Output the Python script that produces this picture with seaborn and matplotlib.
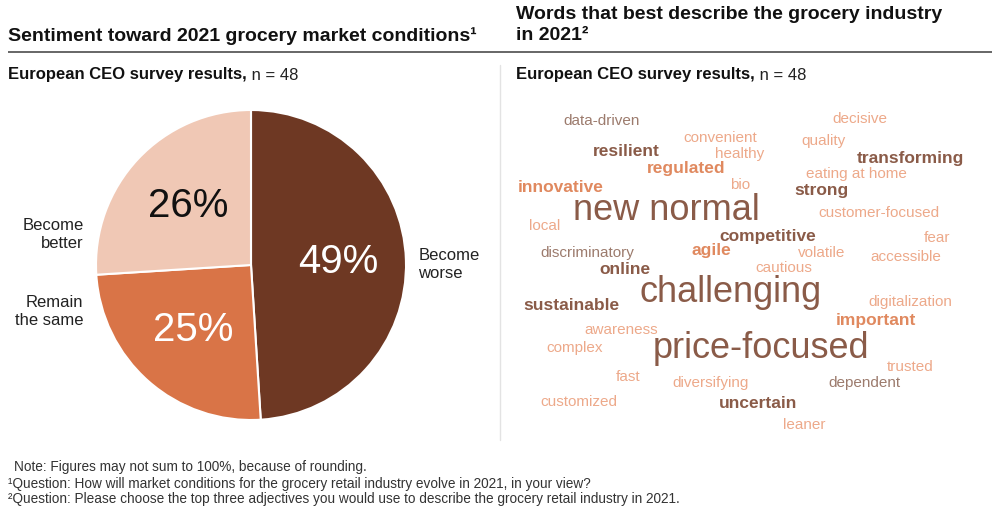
import matplotlib
matplotlib.use('Agg')
import matplotlib.pyplot as plt
import seaborn as sns

# --- data ---
sentiment_labels = ['Become\nworse', 'Remain\nthe same', 'Become\nbetter']
sentiment_share = [49, 25, 26]

cloud_words = [
    'new normal', 'challenging', 'price-focused',
    'resilient', 'transforming', 'strong', 'competitive', 'online', 'sustainable', 'uncertain',
    'regulated', 'innovative', 'agile', 'important',
    'data-driven', 'discriminatory', 'dependent',
    'decisive', 'convenient', 'quality', 'healthy', 'eating at home', 'bio',
    'customer-focused', 'local', 'fear', 'volatile', 'accessible', 'cautious',
    'digitalization', 'awareness', 'complex', 'trusted', 'fast', 'diversifying',
    'customized', 'leaner',
]
# 3 = most cited, 2 = frequently cited, 1 = cited
cloud_tier = [3, 3, 3,
              2, 2, 2, 2, 2, 2, 2,
              2, 2, 2, 2,
              1, 1, 1,
              1, 1, 1, 1, 1, 1,
              1, 1, 1, 1, 1, 1,
              1, 1, 1, 1, 1, 1,
              1, 1]
# tone group used for colour
cloud_tone = ['dark', 'dark', 'dark',
              'dark', 'dark', 'dark', 'dark', 'dark', 'dark', 'dark',
              'orange', 'orange', 'orange', 'orange',
              'muted', 'muted', 'muted',
              'light', 'light', 'light', 'light', 'light', 'light',
              'light', 'light', 'light', 'light', 'light', 'light',
              'light', 'light', 'light', 'light', 'light', 'light',
              'light', 'light']

# --- layout (pixel positions of the word cloud, not data) ---
cloud_xy = [
    (666, 211), (731, 293), (761, 349),
    (626, 151), (910, 158), (821, 191), (768, 236), (625, 269), (571, 306), (758, 403),
    (686, 168), (561, 187), (711, 251), (876, 320),
    (602, 121), (587, 253), (864, 383),
    (860, 119), (720, 138), (823, 141), (740, 154), (856, 174), (740, 185),
    (879, 213), (545, 226), (937, 238), (822, 253), (906, 257), (784, 268),
    (910, 302), (621, 330), (575, 348), (910, 367), (628, 377), (711, 383),
    (579, 402), (804, 425),
]

pie_colors = sns.color_palette(['#6e3823', '#d97447', '#f0c8b5'])
tone_colors = {'dark': '#8a5b48', 'orange': '#e0895f', 'muted': '#9c7b6d', 'light': '#eda98a'}
tier_size = {3: 26, 2: 12.5, 1: 11}
tier_weight = {3: 'normal', 2: 'bold', 1: 'normal'}

sns.set_theme(style='white')
plt.rcParams['font.family'] = ['Liberation Sans', 'DejaVu Sans']

fig = plt.figure(figsize=(9.96, 5.11), dpi=100)

# overlay axes in pixel units for titles, rules and the word cloud
axt = fig.add_axes([0, 0, 1, 1])
axt.set_xlim(0, 996)
axt.set_ylim(511, 0)
axt.axis('off')

# pie
W, H = 996, 511
cx, cy, r = 251, 265, 155
ax = fig.add_axes([(cx - 1.25 * r) / W, 1 - (cy + 1.25 * r) / H, 2.5 * r / W, 2.5 * r / H])
wedges, _, autotexts = ax.pie(
    sentiment_share,
    colors=pie_colors,
    startangle=90,
    counterclock=False,
    autopct=lambda p: f'{p:.0f}%',
    pctdistance=0.56,
    wedgeprops=dict(edgecolor='white', linewidth=1.5),
    textprops=dict(fontsize=29),
)
for t, c in zip(autotexts, ['white', 'white', '#111111']):
    t.set_color(c)
ax.set_xlim(-1.25, 1.25)
ax.set_ylim(-1.25, 1.25)

label_pos = [(1.08, 0.0, 'left'), (-1.08, -0.3, 'right'), (-1.08, 0.2, 'right')]
for lab, (lx, ly, ha) in zip(sentiment_labels, label_pos):
    ax.text(lx, ly, lab, ha=ha, va='center', fontsize=12, color='#222222', linespacing=1.25)

# titles
axt.text(8, 36, 'Sentiment toward 2021 grocery market conditions¹', fontsize=14,
         fontweight='bold', color='#111111', va='center', ha='left')
axt.text(516, 25, 'Words that best describe the grocery industry\nin 2021²', fontsize=14,
         fontweight='bold', color='#111111', va='center', ha='left', linespacing=1.35)
axt.plot([8, 992], [52.5, 52.5], color='#666666', lw=1.4, solid_capstyle='butt')
axt.plot([500, 500], [65, 440], color='#e3e3e3', lw=1)

for x0 in (8, 516):
    sub = axt.text(x0, 75, 'European CEO survey results,', fontsize=12, fontweight='bold',
                   color='#111111', va='center', ha='left')
    axt.annotate(' n = 48', xy=(1, 0), xycoords=sub, va='bottom', ha='left',
                 fontsize=12, color='#222222')

# word cloud
for word, tier, tone, (x, y) in zip(cloud_words, cloud_tier, cloud_tone, cloud_xy):
    axt.text(x, y, word, ha='center', va='center', fontsize=tier_size[tier],
             fontweight=tier_weight[tier], color=tone_colors[tone])

# footnotes
axt.text(14, 467, 'Note: Figures may not sum to 100%, because of rounding.', fontsize=9.8,
         color='#333333', va='center')
axt.text(8, 484, '¹Question: How will market conditions for the grocery retail industry evolve in 2021, in your view?',
         fontsize=9.8, color='#333333', va='center')
axt.text(8, 499, '²Question: Please choose the top three adjectives you would use to describe the grocery retail industry in 2021.',
         fontsize=9.8, color='#333333', va='center')

fig.savefig('out.png', dpi=100)
